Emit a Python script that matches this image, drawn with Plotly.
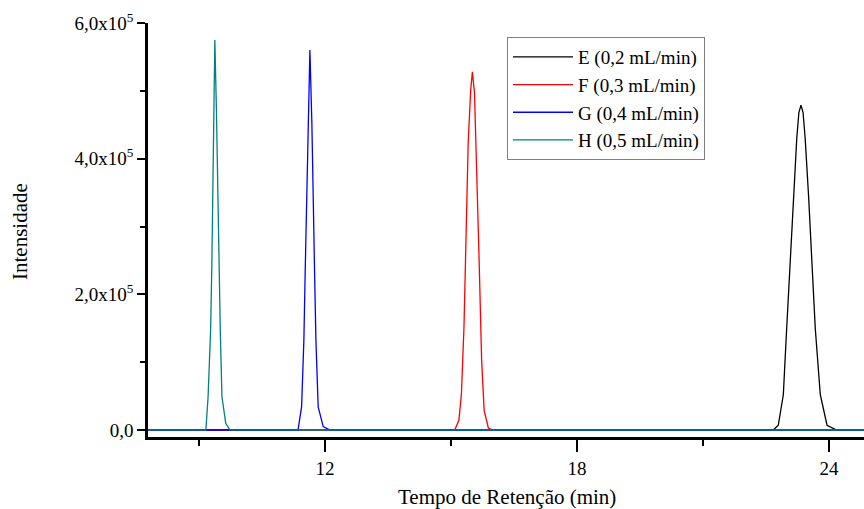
import plotly.graph_objects as go

# Data
E_t = [7.8, 22.67, 22.79, 22.91, 22.99, 23.07, 23.15, 23.23, 23.28, 23.33, 23.38, 23.43, 23.51, 23.59, 23.67, 23.79, 23.95, 24.18, 24.9]
E_i = [0, 0, 7e3, 5.2e4, 1.5e5, 2.48e5, 3.46e5, 4.3e5, 4.68e5, 4.79e5, 4.68e5, 4.3e5, 3.46e5, 2.48e5, 1.5e5, 5.2e4, 7e3, 0, 0]

F_t = [7.8, 15.09, 15.19, 15.25, 15.31, 15.36, 15.41, 15.47, 15.51, 15.56, 15.61, 15.67, 15.73, 15.79, 15.89, 16.0, 24.9]
F_i = [0, 0, 1.47e4, 5.45e4, 1.52e5, 2.99e5, 4.23e5, 5.01e5, 5.28e5, 4.97e5, 3.98e5, 2.51e5, 1.03e5, 2.9e4, 3e3, 0, 0]

G_t = [7.8, 11.36, 11.445, 11.50, 11.53, 11.56, 11.60, 11.643, 11.69, 11.72, 11.755, 11.786, 11.84, 11.96, 12.12, 24.9]
G_i = [0, 0, 3.4e4, 1.33e5, 2.31e5, 3.29e5, 4.52e5, 5.6e5, 4.52e5, 3.29e5, 2.31e5, 1.33e5, 3.4e4, 5e3, 0, 0]

H_t = [7.8, 9.167, 9.22, 9.28, 9.31, 9.33, 9.36, 9.381, 9.42, 9.45, 9.48, 9.51, 9.55, 9.64, 9.74, 24.9]
H_i = [0, 0, 4.9e4, 1.47e5, 2.46e5, 3.44e5, 4.67e5, 5.75e5, 4.67e5, 3.44e5, 2.46e5, 1.47e5, 4.9e4, 1.0e4, 0, 0]

series_names = ["E (0,2 mL/min)", "F (0,3 mL/min)", "G (0,4 mL/min)", "H (0,5 mL/min)"]
series_colors = ["#000000", "#ff0000", "#0000ff", "#008080"]

x_tickvals = [12, 18, 24]
x_ticktext = ["12", "18", "24"]
y_tickvals = [0, 2e5, 4e5, 6e5]
y_ticktext = ["0,0", "2,0x10<sup>5</sup>", "4,0x10<sup>5</sup>", "6,0x10<sup>5</sup>"]

FONT = "Liberation Serif"

fig = go.Figure()
for t, i, name, color in zip([E_t, F_t, G_t, H_t], [E_i, F_i, G_i, H_i], series_names, series_colors):
    fig.add_trace(go.Scatter(x=t, y=i, mode="lines", name=name,
                             line=dict(color=color, width=1.3)))

fig.update_layout(
    width=864, height=509,
    margin=dict(l=148, r=0, t=23, b=72, autoexpand=False),
    paper_bgcolor="white", plot_bgcolor="white",
    font=dict(family=FONT, color="black", size=19),
    showlegend=True,
    legend=dict(x=(507 - 148) / 716, y=(437 - 37) / 414, xanchor="left", yanchor="top",
                bgcolor="white", bordercolor="#808080", borderwidth=1,
                font=dict(family=FONT, size=19, color="black"),
                tracegroupgap=0, itemwidth=60),
    xaxis=dict(range=[7.79, 24.83], showgrid=False, zeroline=False,
               showline=True, linecolor="black", linewidth=3,
               ticks="outside", ticklen=12, tickwidth=2, tickcolor="black",
               tickmode="array", tickvals=x_tickvals, ticktext=x_ticktext,
               tickfont=dict(family=FONT, size=19),
               minor=dict(tickmode="linear", tick0=0, dtick=3, ticks="outside",
                          ticklen=6, tickwidth=2, tickcolor="black")),
    yaxis=dict(range=[-1.03e4, 6.0e5], showgrid=False, zeroline=False,
               showline=True, linecolor="black", linewidth=2.5,
               ticks="outside", ticklen=8, tickwidth=2, tickcolor="black",
               tickmode="array", tickvals=y_tickvals, ticktext=y_ticktext,
               tickfont=dict(family=FONT, size=19),
               minor=dict(tickmode="linear", tick0=0, dtick=1e5, ticks="outside",
                          ticklen=5, tickwidth=2, tickcolor="black")),
    annotations=[
        dict(text="Tempo de Retenção (min)", xref="paper", yref="paper",
             x=(507 - 148) / 716, y=-(497 - 437) / 414, xanchor="center", yanchor="middle",
             showarrow=False, font=dict(family=FONT, size=21, color="black")),
        dict(text="Intensidade", xref="paper", yref="paper", textangle=-90,
             x=-(148 - 20) / 716, y=(437 - 232) / 414, xanchor="center", yanchor="middle",
             showarrow=False, font=dict(family=FONT, size=21, color="black")),
    ],
)

# remove the default page margin so the 864x509 figure fills the window
fig.write_html("out.html",
               config={"displayModeBar": False},
               post_script="document.body.style.margin='0';document.body.style.overflow='hidden';")
